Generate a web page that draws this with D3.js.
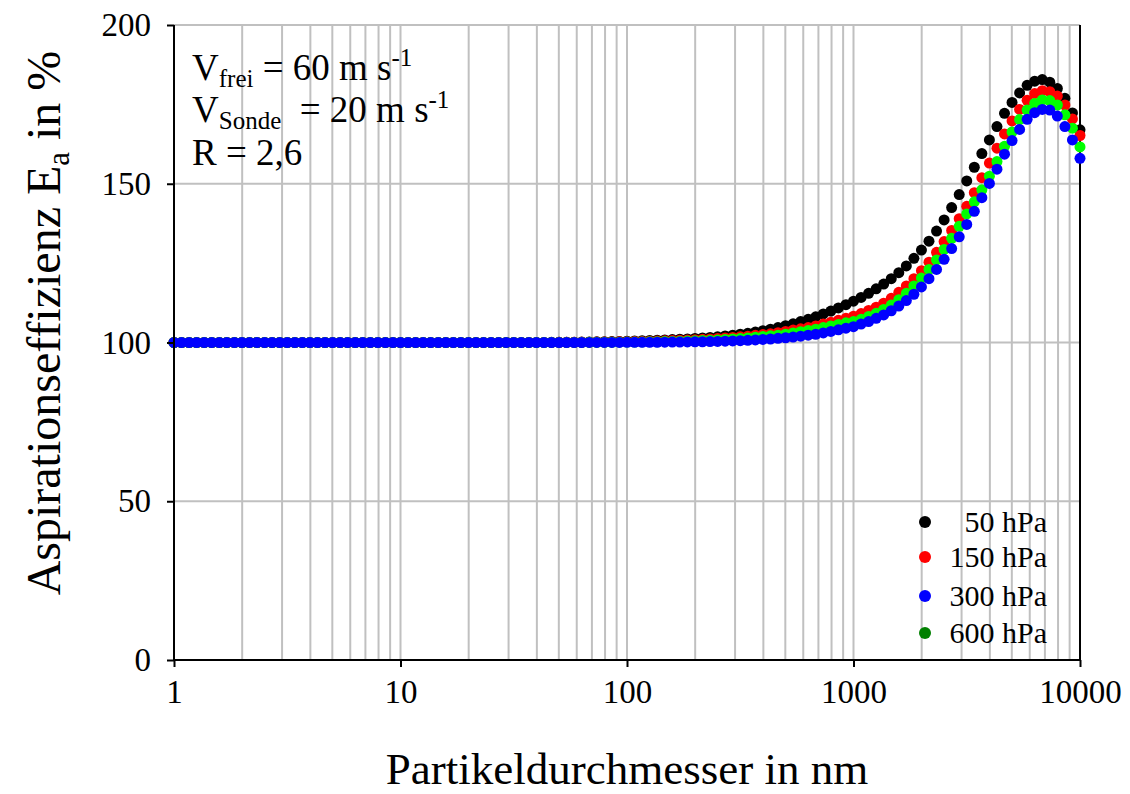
<!DOCTYPE html>
<html>
<head>
<meta charset="utf-8">
<script src="https://cdn.jsdelivr.net/npm/d3@7"></script>
<style>
html,body{margin:0;padding:0;background:#fff;}
text{font-family:"Liberation Serif","Times New Roman",serif;fill:#000;}
</style>
</head>
<body>
<svg id="chart" width="1130" height="794"></svg>
<script>
// Particle diameter (nm), 30 points per decade
const diameters = [
 1, 1.08, 1.166, 1.259, 1.359, 1.468, 1.585, 1.711, 1.848, 1.995, 2.154, 2.326, 2.512, 2.712, 2.929, 3.162, 3.415, 3.687, 3.981, 4.299, 4.642, 5.012, 5.412, 5.843, 6.31, 6.813, 7.356, 7.943, 8.577, 9.261,
 10, 10.8, 11.66, 12.59, 13.59, 14.68, 15.85, 17.11, 18.48, 19.95, 21.54, 23.26, 25.12, 27.12, 29.29, 31.62, 34.15, 36.87, 39.81, 42.99, 46.42, 50.12, 54.12, 58.43, 63.1, 68.13, 73.56, 79.43, 85.77, 92.61,
 100, 108, 116.6, 125.9, 135.9, 146.8, 158.5, 171.1, 184.8, 199.5, 215.4, 232.6, 251.2, 271.2, 292.9, 316.2, 341.5, 368.7, 398.1, 429.9, 464.2, 501.2, 541.2, 584.3, 631, 681.3, 735.6, 794.3, 857.7, 926.1,
 1000, 1080, 1166, 1259, 1359, 1468, 1585, 1711, 1848, 1995, 2154, 2326, 2512, 2712, 2929, 3162, 3415, 3687, 3981, 4299, 4642, 5012, 5412, 5843, 6310, 6813, 7356, 7943, 8577, 9261,
 10000];

const ea50 = [
 100,100,100,100,100,100,100,100,100,100,100,100,100,100,100,100,100,100,100,100,100,100,100,100,100,100,100,100,100,100,
 100,100,100,100,100,100,100,100,100,100,100,100,100,100,100,100.01,100.02,100.02,100.03,100.03,100.04,100.06,100.08,100.11,100.14,100.17,100.2,100.25,100.3,100.35,
 100.42,100.5,100.58,100.66,100.74,100.82,100.92,101.02,101.14,101.27,101.42,101.6,101.8,102.05,102.3,102.6,102.9,103.3,103.7,104.2,104.7,105.3,105.9,106.6,107.3,108.1,109.0,109.9,110.9,111.9,
 113.0,114.2,115.5,116.9,118.4,120.1,122.0,124.1,126.5,129.1,131.9,135.1,138.6,142.5,146.6,150.9,155.2,159.5,163.8,168.0,172.2,175.6,178.6,181.0,182.3,182.8,182.0,180.0,176.9,172.3,
 167.0];

const ea150 = [
 100,100,100,100,100,100,100,100,100,100,100,100,100,100,100,100,100,100,100,100,100,100,100,100,100,100,100,100,100,100,
 100,100,100,100,100,100,100,100,100,100,100,100,100,100,100,100,100,100.01,100.01,100.02,100.03,100.04,100.05,100.06,100.08,100.1,100.12,100.15,100.18,100.22,
 100.26,100.3,100.35,100.4,100.46,100.53,100.6,100.68,100.77,100.87,101.0,101.13,101.27,101.43,101.6,101.8,102.0,102.25,102.5,102.75,103.1,103.5,103.9,104.3,104.7,105.2,105.8,106.4,107.0,107.6,
 108.3,109.1,110.1,111.1,112.4,113.9,115.8,117.8,120.1,122.6,125.3,128.4,131.8,135.3,139.0,142.9,147.2,151.9,156.5,161.2,165.7,169.8,173.4,176.3,178.4,179.3,179.0,177.6,174.8,170.4,
 165.2];

const ea300 = [
 100,100,100,100,100,100,100,100,100,100,100,100,100,100,100,100,100,100,100,100,100,100,100,100,100,100,100,100,100,100,
 100,100,100,100,100,100,100,100,100,100,100,100,100,100,100,100,100,100,100,100,100,100,100,100,100,100.01,100.01,100.02,100.02,100.03,
 100.04,100.05,100.06,100.07,100.08,100.1,100.12,100.14,100.17,100.2,100.24,100.28,100.33,100.4,100.48,100.57,100.67,100.8,100.95,101.1,101.3,101.5,101.7,102.0,102.3,102.6,103.0,103.5,104.0,104.5,
 105.0,105.8,106.6,107.6,108.7,110.0,111.5,113.2,115.2,117.5,120.1,123.0,126.2,129.6,133.3,137.2,141.3,145.6,150.1,154.6,159.3,163.6,167.1,170.3,172.4,173.4,173.2,171.3,168.0,163.8,
 158.0];

const ea600 = [
 100,100,100,100,100,100,100,100,100,100,100,100,100,100,100,100,100,100,100,100,100,100,100,100,100,100,100,100,100,100,
 100,100,100,100,100,100,100,100,100,100,100,100,100,100,100,100,100,100,100,100,100.01,100.01,100.02,100.02,100.03,100.04,100.05,100.06,100.08,100.1,
 100.12,100.14,100.17,100.2,100.24,100.28,100.33,100.38,100.45,100.52,100.6,100.7,100.82,100.95,101.1,101.25,101.45,101.65,101.9,102.1,102.3,102.6,103.0,103.4,103.8,104.2,104.7,105.2,105.7,106.2,
 106.6,107.3,108.2,109.2,110.4,111.8,113.5,115.5,117.8,120.3,123.0,126.0,129.3,132.8,136.6,140.5,144.3,148.1,152.4,157.0,161.8,166.3,170.2,173.2,175.3,176.4,176.2,174.8,171.7,167.5,
 161.6];

const seriesLabels = ["50 hPa", "150 hPa", "300 hPa", "600 hPa"];
const seriesColors = ["#000000", "#ff0000", "#0000ff", "#00ff00"];
const legendColors = ["#000000", "#ff0000", "#0000ff", "#008000"];
const xTickValues = [1, 10, 100, 1000, 10000];
const xTickLabels = ["1", "10", "100", "1000", "10000"];
const yTickValues = [0, 50, 100, 150, 200];
const annotations = ["V|frei| = 60 m s|-1", "V|Sonde|\u00a0 = 20 m s|-1", "R = 2,6"];

(function () {
const svg = d3.select("#chart");
const pLeft = 174, pRight = 1080, pTop = 25, pBottom = 660;

const x = d3.scaleLog().domain([1, 10000]).range([pLeft, pRight]);
const y = d3.scaleLinear().domain([0, 200]).range([pBottom, pTop]);

// gridlines
const gridColor = "#c0c0c0";
const minor = [];
[1, 10, 100, 1000].forEach(dec => { for (let k = 2; k <= 10; k++) minor.push(dec * k); });
svg.append("g").selectAll("line").data(minor.filter(v => v < 10000)).join("line")
  .attr("x1", d => x(d)).attr("x2", d => x(d)).attr("y1", pTop).attr("y2", pBottom)
  .attr("stroke", gridColor).attr("stroke-width", 2);
svg.append("g").selectAll("line").data(yTickValues.filter(v => v > 0)).join("line")
  .attr("x1", pLeft).attr("x2", pRight).attr("y1", d => y(d)).attr("y2", d => y(d))
  .attr("stroke", gridColor).attr("stroke-width", 2);

// right frame line
svg.append("line").attr("x1", pRight).attr("x2", pRight).attr("y1", pTop).attr("y2", pBottom)
  .attr("stroke", "#000").attr("stroke-width", 2);

// data points: draw order black, red, lime, blue
const seriesData = [ea50, ea150, ea600, ea300];
const drawColors = ["#000000", "#ff0000", "#00ff00", "#0000ff"];
seriesData.forEach((vals, si) => {
  svg.append("g").selectAll("circle").data(vals.map((v, i) => [diameters[i], v])).join("circle")
    .attr("cx", d => x(d[0])).attr("cy", d => y(d[1])).attr("r", 5.5)
    .attr("fill", drawColors[si]);
});

// axes
const xAxis = svg.append("g").attr("transform", `translate(0,${pBottom})`)
  .call(d3.axisBottom(x).tickValues(xTickValues).tickFormat((d, i) => xTickLabels[i]).tickSize(7).tickPadding(13));
const yAxis = svg.append("g").attr("transform", `translate(${pLeft},0)`)
  .call(d3.axisLeft(y).tickValues(yTickValues).tickSize(7).tickPadding(16));
[xAxis, yAxis].forEach(a => {
  a.select(".domain").attr("stroke", "#000").attr("stroke-width", 2);
  a.selectAll(".tick line").attr("stroke", "#000").attr("stroke-width", 2);
  a.selectAll(".tick text").attr("font-family", "Liberation Serif, serif").attr("font-size", 33).attr("fill", "#000");
});
xAxis.select(".domain").attr("d", `M${pLeft},0H${pRight}`);
yAxis.select(".domain").attr("d", `M0,${pBottom}V${pTop}`);

// axis titles
svg.append("text").attr("x", 627).attr("y", 784).attr("text-anchor", "middle")
  .attr("font-size", 45).text("Partikeldurchmesser in nm");
const yt = svg.append("text").attr("transform", "translate(60,323) rotate(-90)")
  .attr("text-anchor", "middle").attr("font-size", 48);
yt.append("tspan").text("Aspirationseffizienz E");
yt.append("tspan").attr("font-size", 31).attr("dy", 9).text("a");
yt.append("tspan").attr("dy", -9).text(" in %");

// annotations
const annY = [80, 122, 165];
annotations.forEach((a, i) => {
  const parts = a.split("|");
  const t = svg.append("text").attr("x", 192).attr("y", annY[i]).attr("font-size", 37);
  if (parts.length === 1) { t.text(a); return; }
  t.append("tspan").text(parts[0]);
  t.append("tspan").attr("font-size", 25).attr("dy", 7).text(parts[1]);
  t.append("tspan").attr("dy", -7).text(parts[2]);
  t.append("tspan").attr("font-size", 25).attr("dy", -14).text(parts[3]);
});

// legend
const legY = [522, 557, 596, 633];
seriesLabels.forEach((lab, i) => {
  svg.append("circle").attr("cx", 925).attr("cy", legY[i]).attr("r", 6).attr("fill", legendColors[i]);
  svg.append("text").attr("x", 1047).attr("y", legY[i] + 10).attr("text-anchor", "end")
    .attr("font-size", 30).text(lab);
});
})();
</script>
</body>
</html>
